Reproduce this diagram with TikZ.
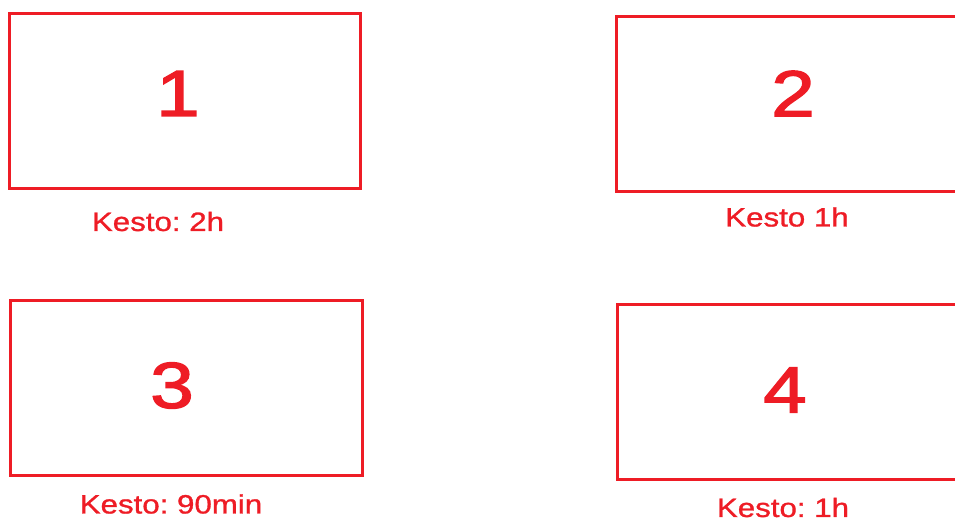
\documentclass[tikz,border=0pt]{standalone}
\usepackage{fontspec}
\setmainfont{Liberation Sans}
\newfontfamily\numfont[FakeBold=2]{Liberation Sans}
\newfontfamily\durfont[FakeBold=1]{Liberation Sans}
\definecolor{kred}{HTML}{EE1C25}
\begin{document}
\begin{tikzpicture}[x=1pt,y=-1pt,
  box/.style={draw=kred,line width=3pt,inner sep=0pt,minimum width=351pt,minimum height=175pt},
  num/.style={text=kred,inner sep=0pt,xscale=1.2,font=\numfont\fontsize{65}{70}\selectfont},
  dur/.style={text=kred,inner sep=0pt,xscale=1.18,font=\durfont\frenchspacing\fontsize{26.5}{30}\selectfont}]
\path[use as bounding box] (0,0) rectangle (955,517);
\clip (0,0) rectangle (955,517);
\node[box] (b1) at (185,101) {};
\node[box] (b2) at (792,103.5) {};
\node[box,minimum width=352pt] (b3) at (186.5,388) {};
\node[box] (b4) at (793,391.5) {};
\node[num] (n1) at (178,93.5) {1};
\node[num] (n2) at (793,93.5) {2};
\node[num] (n3) at (172,385.5) {3};
\node[num] (n4) at (785,390) {4};
\node[dur] (d1) at (158,221.5) {Kesto: 2h};
\node[dur] (d2) at (787,217) {Kesto 1h};
\node[dur] (d3) at (171,504) {Kesto: 90min};
\node[dur] (d4) at (783,507.5) {Kesto: 1h};
\end{tikzpicture}
\end{document}
